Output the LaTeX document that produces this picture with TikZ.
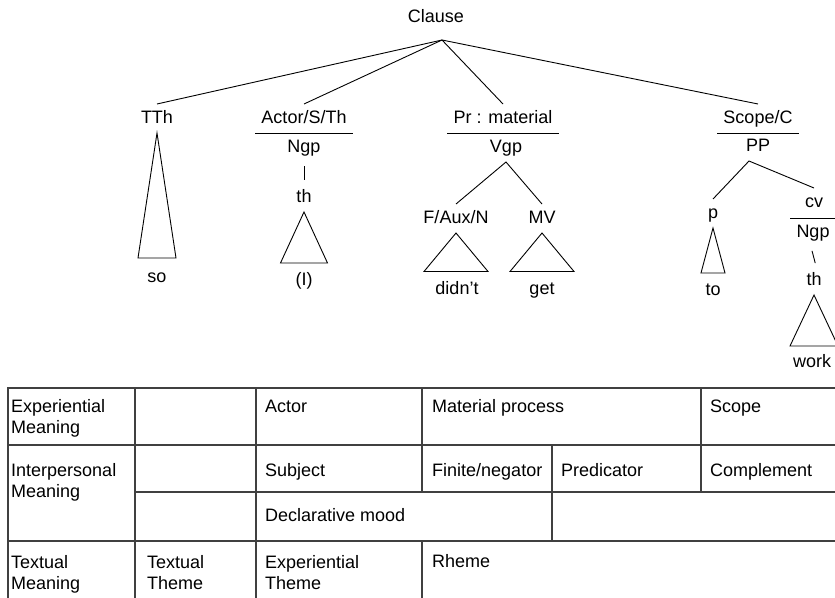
\documentclass[tikz,border=0pt]{standalone}
\usepackage{fontspec}
\setmainfont{Liberation Sans}

\begin{document}
\begin{tikzpicture}[x=1pt,y=-1pt,
  txt/.style={font=\fontsize{18}{21.5}\selectfont, text=black},
  lbl/.style={txt, inner sep=0pt, text height=13pt, text depth=4pt, outer ysep=6pt, anchor=base},
  cell/.style={txt, inner sep=0pt, anchor=base west, align=left},
  branch/.style={draw=black, line width=0.9pt},
  stem/.style={branch, shorten <=4pt, shorten >=3pt},
  bar/.style={branch, shorten <=-6pt, shorten >=-6pt},
  grid/.style={draw=black!75, line width=1.1pt, line cap=rect}]
\clip (0,0) rectangle (835,597);
\node[lbl] (clause) at (436,22) {Clause};
\coordinate (root) at ([xshift=6pt,yshift=-8pt]clause.south);
\node[lbl] (tth) at (157,123) {TTh};
\node[lbl] (actor) at (304,123) {Actor/S/Th};
\node[lbl] (ngp) at (304,152) {Ngp};
\node[lbl] (th) at (304,202) {th};
\node[lbl] (pr) at (503,123) {Pr : material};
\node[lbl] (vgp) at (506,152) {Vgp};
\node[lbl] (faux) at (456,223) {F/Aux/N};
\node[lbl] (mv) at (542,223) {MV};
\node[lbl] (scope) at (758,123) {Scope/C};
\node[lbl] (pp) at (758,151) {PP};
\node[lbl] (p) at (713,218) {p};
\node[lbl] (cv) at (814,207) {cv};
\node[lbl] (cvngp) at (813,237) {Ngp};
\node[lbl] (cvth) at (814,285) {th};
\node[lbl] (so) at (157,282) {so};
\node[lbl] (pron) at (304,285) {(I)};
\node[lbl] (didnt) at (457,294) {didn’t};
\node[lbl] (get) at (542,294) {get};
\node[lbl] (to) at (713,295) {to};
\node[lbl] (work) at (812,367) {work};
\foreach \n in {tth,actor,pr,scope}
  \draw[branch] (root) -- (\n.north);
\draw[bar] (actor.south west) -- (actor.south east);
\draw[bar] (pr.south west) -- (pr.south east);
\draw[bar] (scope.south west) -- (scope.south east);
\draw[bar] (cvngp.north west) -- (cvngp.north east);
\draw[stem] (ngp.south) -- (th.north);
\draw[stem] ([xshift=-2pt]cvngp.south) -- ([xshift=2pt]cvth.north);
\draw[branch] (faux.north) -- (vgp.south) -- (mv.north);
\draw[branch] (p.north) -- ([xshift=-9pt]pp.south) -- (cv.north);
\foreach \n/\h/\w in {tth/125/19,th/51/23.5,faux/38.5/32,mv/38.5/32,p/45/12,cvth/51/24}
  \draw[branch] (\n.south) -- ++(-\w,\h) -- ++({2*\w},0) -- cycle;
\foreach \x/\a/\b in {8/388/610,135/388/610,256/388/610,422/388/492,422/541/610,552/445/541,701/388/492}
  \draw[grid] (\x,\a) -- (\x,\b);
\foreach \y/\a in {388/8,445/8,492/135,541/8}
  \draw[grid] (\a,\y) -- (850,\y);
\node[cell] (expm) at (11,433.5) {Experiential\\Meaning};
\node[cell] (actc) at (265,412) {Actor};
\node[cell] (matc) at (432,412) {Material process};
\node[cell] (scpc) at (710,412) {Scope};
\node[cell] (intm) at (11,497.5) {Interpersonal\\Meaning};
\node[cell] (subc) at (265,476) {Subject};
\node[cell] (finc) at (432,476) {Finite/negator};
\node[cell] (prdc) at (561,476) {Predicator};
\node[cell] (cmpc) at (710,476) {Complement};
\node[cell] (decc) at (265,521) {Declarative mood};
\node[cell] (txtm) at (11,589.5) {Textual\\Meaning};
\node[cell] (txth) at (147,589.5) {Textual\\Theme};
\node[cell] (expt) at (265,589.5) {Experiential\\Theme};
\node[cell] (rhmc) at (432,567) {Rheme};
\end{tikzpicture}
\end{document}
